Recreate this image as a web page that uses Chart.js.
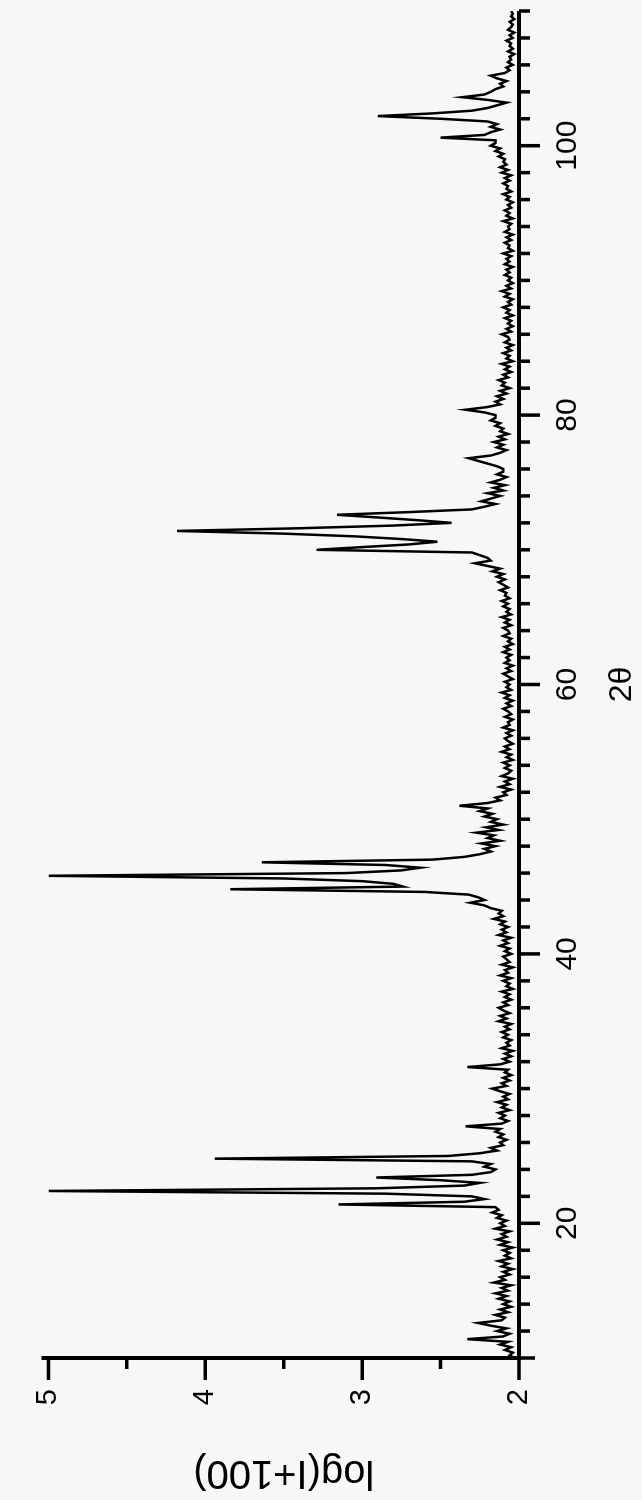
<!DOCTYPE html>
<html>
<head>
<meta charset="utf-8">
<script src="https://cdn.jsdelivr.net/npm/chart.js@4.4.0/dist/chart.umd.min.js"></script>
<style>
  html, body { margin: 0; padding: 0; background: #f7f7f7; overflow: hidden; }
  /* the plot is drawn landscape and turned a quarter turn, as in the scan */
  #turn { position: absolute; left: 0; top: 0; width: 1500px; height: 642px;
          transform-origin: 0 0; transform: translate(0, 1500px) rotate(-90deg); }
</style>
</head>
<body>
<div id="turn"><canvas id="xrd" width="1500" height="642"></canvas></div>
<script>
// 2theta scan, 10..110 deg, one reading every 0.2 deg
const angleStart = 10;
const angleStep = 0.2;

// log(I+100), one row = 2 deg (row start angle in comment)
const logI = [
  2.03, 2.06, 2.04, 2.09, 2.05, 2.12, 2.07, 2.33, 2.10, 2.06, // 10
  2.14, 2.08, 2.18, 2.26, 2.11, 2.09, 2.15, 2.07, 2.12, 2.05, // 12
  2.10, 2.06, 2.13, 2.08, 2.15, 2.07, 2.11, 2.05, 2.16, 2.09, // 14
  2.12, 2.06, 2.10, 2.04, 2.11, 2.07, 2.13, 2.05, 2.09, 2.06, // 16
  2.10, 2.04, 2.12, 2.07, 2.14, 2.08, 2.11, 2.06, 2.15, 2.09, // 18
  2.12, 2.08, 2.14, 2.11, 2.17, 2.13, 2.15, 3.15, 2.35, 2.22, // 20
  2.30, 2.85, 5.00, 2.90, 2.35, 2.25, 2.50, 2.91, 2.30, 2.18, // 22
  2.15, 2.22, 2.18, 2.30, 3.94, 2.45, 2.25, 2.14, 2.18, 2.10, // 24
  2.12, 2.08, 2.13, 2.10, 2.15, 2.12, 2.34, 2.11, 2.07, 2.12, // 26
  2.09, 2.13, 2.06, 2.11, 2.08, 2.14, 2.07, 2.10, 2.06, 2.12, // 28
  2.17, 2.08, 2.11, 2.06, 2.10, 2.05, 2.09, 2.07, 2.33, 2.12, // 30
  2.06, 2.10, 2.05, 2.09, 2.04, 2.11, 2.06, 2.08, 2.05, 2.10, // 32
  2.07, 2.11, 2.06, 2.09, 2.05, 2.13, 2.08, 2.12, 2.06, 2.10, // 34
  2.13, 2.07, 2.10, 2.05, 2.09, 2.06, 2.11, 2.04, 2.08, 2.06, // 36
  2.10, 2.05, 2.12, 2.07, 2.09, 2.04, 2.11, 2.06, 2.08, 2.10, // 38
  2.05, 2.09, 2.06, 2.12, 2.07, 2.10, 2.05, 2.13, 2.08, 2.11, // 40
  2.07, 2.12, 2.09, 2.16, 2.10, 2.13, 2.11, 2.18, 2.22, 2.31, // 42
  2.22, 2.26, 2.32, 2.60, 3.84, 2.74, 2.80, 3.00, 3.50, 5.00, // 44
  3.10, 2.75, 2.63, 2.85, 3.64, 2.55, 2.35, 2.25, 2.18, 2.22, // 46
  2.15, 2.24, 2.12, 2.20, 2.16, 2.27, 2.13, 2.21, 2.10, 2.18, // 48
  2.14, 2.22, 2.17, 2.25, 2.20, 2.38, 2.20, 2.12, 2.15, 2.08, // 50
  2.10, 2.05, 2.12, 2.06, 2.09, 2.04, 2.11, 2.07, 2.05, 2.09, // 52
  2.06, 2.10, 2.04, 2.08, 2.05, 2.11, 2.06, 2.09, 2.04, 2.07, // 54
  2.09, 2.05, 2.08, 2.04, 2.10, 2.06, 2.07, 2.04, 2.09, 2.05, // 56
  2.07, 2.10, 2.05, 2.08, 2.04, 2.09, 2.06, 2.11, 2.05, 2.08, // 58
  2.06, 2.09, 2.04, 2.07, 2.10, 2.05, 2.08, 2.04, 2.09, 2.06, // 60
  2.08, 2.05, 2.10, 2.06, 2.09, 2.04, 2.07, 2.05, 2.10, 2.06, // 62
  2.07, 2.10, 2.05, 2.09, 2.06, 2.11, 2.05, 2.08, 2.06, 2.10, // 64
  2.07, 2.11, 2.06, 2.09, 2.08, 2.12, 2.07, 2.10, 2.13, 2.09, // 66
  2.14, 2.10, 2.17, 2.12, 2.20, 2.28, 2.18, 2.20, 2.25, 2.30, // 68
  3.29, 3.00, 2.70, 2.52, 2.75, 3.05, 3.50, 4.18, 3.40, 2.80, // 70
  2.43, 2.65, 2.90, 3.16, 2.70, 2.30, 2.22, 2.15, 2.24, 2.18, // 72
  2.12, 2.20, 2.10, 2.16, 2.09, 2.18, 2.12, 2.08, 2.14, 2.10, // 74
  2.10, 2.14, 2.20, 2.26, 2.32, 2.18, 2.12, 2.08, 2.14, 2.10, // 76
  2.16, 2.09, 2.13, 2.07, 2.12, 2.10, 2.15, 2.12, 2.18, 2.15, // 78
  2.15, 2.22, 2.34, 2.20, 2.12, 2.15, 2.10, 2.14, 2.08, 2.12, // 80
  2.06, 2.11, 2.09, 2.13, 2.07, 2.10, 2.05, 2.09, 2.06, 2.11, // 82
  2.04, 2.08, 2.06, 2.10, 2.05, 2.08, 2.04, 2.09, 2.06, 2.07, // 84
  2.11, 2.05, 2.08, 2.04, 2.07, 2.05, 2.09, 2.04, 2.08, 2.06, // 86
  2.10, 2.05, 2.07, 2.04, 2.09, 2.06, 2.11, 2.05, 2.08, 2.04, // 88
  2.07, 2.05, 2.09, 2.06, 2.08, 2.04, 2.09, 2.06, 2.08, 2.05, // 90
  2.10, 2.04, 2.07, 2.06, 2.09, 2.05, 2.08, 2.04, 2.09, 2.06, // 92
  2.07, 2.05, 2.10, 2.04, 2.08, 2.06, 2.09, 2.05, 2.07, 2.04, // 94
  2.08, 2.06, 2.10, 2.05, 2.08, 2.07, 2.10, 2.06, 2.09, 2.05, // 96
  2.11, 2.07, 2.12, 2.08, 2.10, 2.09, 2.13, 2.10, 2.15, 2.12, // 98
  2.18, 2.15, 2.15, 2.50, 2.22, 2.18, 2.12, 2.18, 2.14, 2.20, // 100
  2.50, 2.90, 2.55, 2.30, 2.20, 2.14, 2.08, 2.20, 2.36, 2.22, // 102
  2.18, 2.15, 2.10, 2.12, 2.08, 2.14, 2.18, 2.09, 2.06, 2.08, // 104
  2.04, 2.07, 2.05, 2.06, 2.03, 2.07, 2.04, 2.06, 2.05, 2.08, // 106
  2.04, 2.06, 2.03, 2.07, 2.05, 2.04, 2.06, 2.03, 2.05, 2.04, // 108
  2.05                                                        // 110
];

// axis ticks
const angleLabels = [20, 40, 60, 80, 100];
const angleMinor = [10, 12, 14, 16, 18, 22, 24, 26, 28, 30, 32, 34, 36, 38,
  42, 44, 46, 48, 50, 52, 54, 56, 58, 62, 64, 66, 68, 70, 72, 74, 76, 78,
  82, 84, 86, 88, 90, 92, 94, 96, 98, 102, 104, 106, 108, 110];
const valueLabels = [2, 3, 4, 5];
const valueMinor = [2.5, 3.5, 4.5];

const points = logI.map((v, i) => ({ x: angleStart + i * angleStep, y: v }));

const FONT = "'Liberation Sans', Arial, Helvetica, sans-serif";

// axis lines + outward tick marks (long majors, short minors)
const tickMarks = {
  id: 'tickMarks',
  afterDraw(chart) {
    const { ctx, chartArea: a } = chart;
    const x = chart.scales.x, y = chart.scales.y;
    ctx.save();
    ctx.strokeStyle = '#000';
    ctx.lineWidth = 4;
    ctx.beginPath();
    ctx.moveTo(a.left, a.top - 7);
    ctx.lineTo(a.left, a.bottom);
    ctx.moveTo(a.left, a.bottom);
    ctx.lineTo(a.right, a.bottom);
    ctx.stroke();
    ctx.lineWidth = 3.5;
    ctx.beginPath();
    const mark = (px, py, dx, dy) => { ctx.moveTo(px, py); ctx.lineTo(px + dx, py + dy); };
    angleLabels.forEach(v => mark(x.getPixelForValue(v), a.bottom, 0, 21));
    angleMinor.forEach(v => mark(x.getPixelForValue(v), a.bottom, 0, v === 10 ? 16 : 11));
    valueLabels.forEach(v => mark(a.left, y.getPixelForValue(v), -22, 0));
    valueMinor.forEach(v => mark(a.left, y.getPixelForValue(v), -11, 0));
    ctx.stroke();
    ctx.restore();
  }
};

new Chart(document.getElementById('xrd'), {
  type: 'line',
  data: {
    datasets: [{
      data: points,
      borderColor: '#000',
      borderWidth: 2.5,
      pointRadius: 0,
      tension: 0,
      fill: false
    }]
  },
  options: {
    responsive: false,
    animation: false,
    layout: { padding: { top: 23, right: 11, left: 0, bottom: 0 } },
    plugins: { legend: { display: false }, tooltip: { enabled: false } },
    scales: {
      x: {
        type: 'linear',
        min: 10,
        max: 110,
        afterBuildTicks: s => { s.ticks = angleLabels.map(value => ({ value })); },
        afterFit: s => { s.height = 123; },
        grid: { display: false, drawTicks: false },
        border: { display: false },
        ticks: { autoSkip: false, maxRotation: 0, padding: 31, color: '#000',
                 font: { family: FONT, size: 30 } },
        title: { display: true, text: '2θ', color: '#000', padding: { top: 0, bottom: 1 },
                 font: { family: FONT, size: 32 } }
      },
      y: {
        type: 'linear',
        min: 2,
        max: 5,
        afterBuildTicks: s => { s.ticks = valueLabels.map(value => ({ value })); },
        afterFit: s => { s.width = 142; },
        grid: { display: false, drawTicks: false },
        border: { display: false },
        ticks: { padding: 31, color: '#000', font: { family: FONT, size: 29 } },
        title: { display: true, text: 'log(I+100)', color: '#000', padding: { top: 4, bottom: 0 },
                 font: { family: FONT, size: 40 } }
      }
    }
  },
  plugins: [tickMarks]
});
</script>
</body>
</html>
